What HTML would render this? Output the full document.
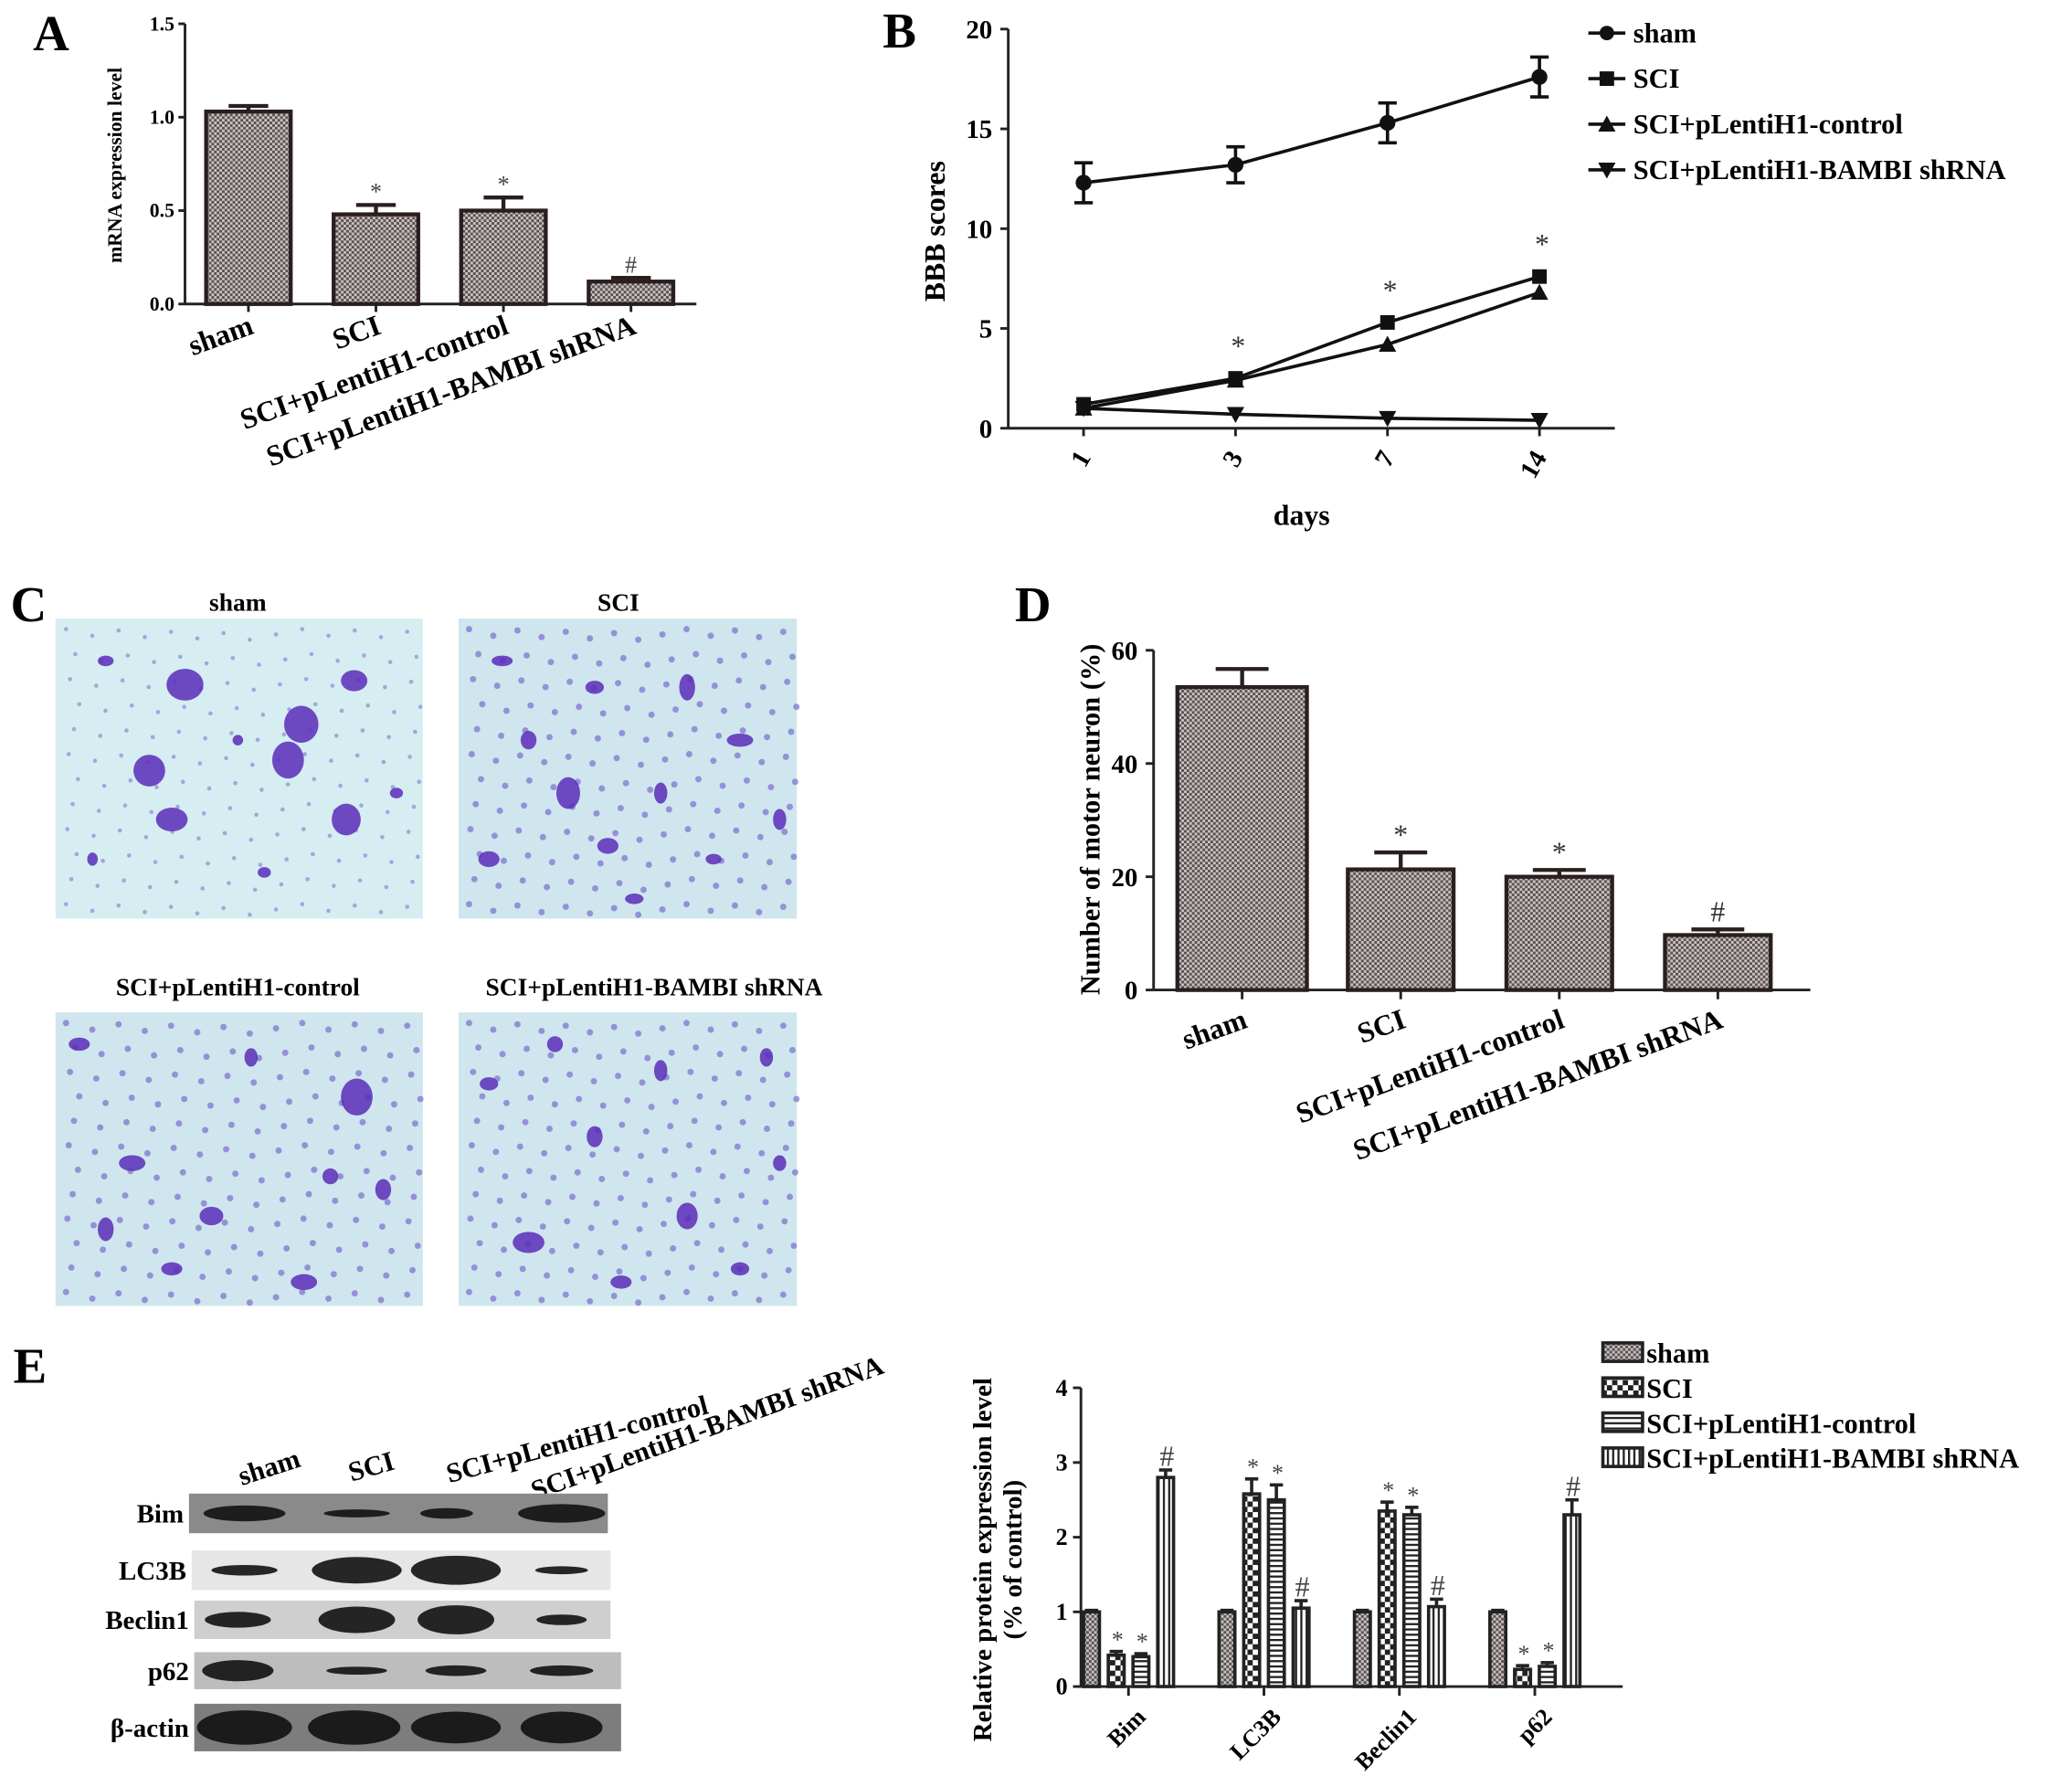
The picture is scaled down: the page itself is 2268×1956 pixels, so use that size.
<!DOCTYPE html>
<html><head><meta charset="utf-8">
<style>
html,body{margin:0;padding:0;background:#fff;}
svg{display:block;font-family:"Liberation Serif",serif;font-weight:bold;}
</style></head>
<body>
<svg id="fig" width="2268" height="1956" viewBox="0 0 1568 1352" preserveAspectRatio="none" xmlns="http://www.w3.org/2000/svg">
<defs>
<pattern id="pCross" width="4" height="4" patternUnits="userSpaceOnUse">
<rect width="4" height="4" fill="#c8c2c2"/><rect width="2" height="2" fill="#5a5050"/><rect x="2" y="2" width="2" height="2" fill="#5a5050"/>
</pattern>
<pattern id="pChecker" width="8" height="8" patternUnits="userSpaceOnUse">
<rect width="8" height="8" fill="#fff"/><rect width="4" height="4" fill="#222"/><rect x="4" y="4" width="4" height="4" fill="#222"/>
</pattern>
<pattern id="pHoriz" width="4" height="4" patternUnits="userSpaceOnUse">
<rect width="4" height="4" fill="#fff"/><rect width="4" height="1.6" fill="#222"/>
</pattern>
<pattern id="pVert" width="4" height="4" patternUnits="userSpaceOnUse">
<rect width="4" height="4" fill="#fff"/><rect width="1.6" height="4" fill="#222"/>
</pattern>
</defs>
<g id="panelA"></g>
<g id="panelB"></g>
<g id="panelC"></g>
<g id="panelD"></g>
<g id="panelE"></g>
</svg>
<script>
// ---- data ----
const groupsA = ["sham","SCI","SCI+pLentiH1-control","SCI+pLentiH1-BAMBI shRNA"];
const valuesA = [1.03,0.48,0.50,0.12];
const errA = [0.03,0.05,0.07,0.02];
const marksA = ["","*","*","#"];
const ticksA = [0,0.5,1.0,1.5];
const tickLabelsA = ["0.0","0.5","1.0","1.5"];

const daysB = ["1","3","7","14"];
const seriesNamesB = ["sham","SCI","SCI+pLentiH1-control","SCI+pLentiH1-BAMBI shRNA"];
const shamB = [12.3,13.2,15.3,17.6];
const shamErrB = [1.0,0.9,1.0,1.0];
const sciB = [1.2,2.5,5.3,7.6];
const ctrlB = [1.0,2.4,4.2,6.8];
const shB = [1.0,0.7,0.5,0.4];
const starsB = ["","*","*","*"];
const ticksB = [0,5,10,15,20];

const groupsD = ["sham","SCI","SCI+pLentiH1-control","SCI+pLentiH1-BAMBI shRNA"];
const valuesD = [53.5,21.3,20.0,9.7];
const errD = [3.2,3.0,1.2,1.0];
const marksD = ["","*","*","#"];
const ticksD = [0,20,40,60];

const proteinsE = ["Bim","LC3B","Beclin1","p62"];
const shamE = [1,1,1,1];
const sciE = [0.42,2.58,2.35,0.23];
const ctrlE = [0.40,2.50,2.30,0.27];
const shE = [2.80,1.05,1.07,2.30];
const errBimE = [0.02,0.05,0.04,0.1];
const errLc3bE = [0.02,0.2,0.2,0.1];
const errBeclinE = [0.02,0.12,0.1,0.1];
const errP62E = [0.02,0.05,0.05,0.2];
const marksE = ["","*","*","#"];
const ticksE = [0,1,2,3,4];

const NS="http://www.w3.org/2000/svg";
function mk(parent,tag,attrs,text){const e=document.createElementNS(NS,tag);for(const k in attrs)e.setAttribute(k,attrs[k]);if(text!==undefined)e.textContent=text;parent.appendChild(e);return e;}

// ---------- Panel A ----------
(function(){
const g=document.getElementById('panelA');
const x0=140,x1=527,y0=230,y1=18,ymax=1.5;
const ys=v=>y0-(v/ymax)*(y0-y1);
const bx=i=>188+i*96.5;
let t=mk(g,'text',{x:25,y:38,'font-size':38});t.textContent="A";

mk(g,'line',{x1:x0,y1:y1,x2:x0,y2:y0,stroke:'#222','stroke-width':2});
mk(g,'line',{x1:x0,y1:y0,x2:x1,y2:y0,stroke:'#222','stroke-width':2});
ticksA.forEach((v,i)=>{mk(g,'line',{x1:x0-5,y1:ys(v),x2:x0,y2:ys(v),stroke:'#222','stroke-width':2});
 const l=mk(g,'text',{x:x0-8,y:ys(v)+5,'text-anchor':'end','font-size':15},tickLabelsA[i]);
 });
const yt=mk(g,'text',{transform:'translate(92,125) rotate(-90)','text-anchor':'middle','font-size':15},"mRNA expression level");

valuesA.forEach((v,i)=>{const cx=bx(i),w=64;
 const r=mk(g,'rect',{x:cx-w/2,y:ys(v),width:w,height:y0-ys(v),fill:'url(#pCross)',stroke:'#2a1e1e','stroke-width':3});
 
 const ye=ys(v+errA[i]);
 mk(g,'line',{x1:cx,y1:ys(v),x2:cx,y2:ye,stroke:'#2a1e1e','stroke-width':3});
 mk(g,'line',{x1:cx-15,y1:ye,x2:cx+15,y2:ye,stroke:'#2a1e1e','stroke-width':3});
 mk(g,'line',{x1:cx,y1:y0,x2:cx,y2:y0+6,stroke:'#222','stroke-width':2});
 if(marksA[i]){const m=mk(g,'text',{x:cx,y:ye-4,'text-anchor':'middle','font-size':18,'font-weight':'normal',fill:'#444'},marksA[i]);}
 const l=mk(g,'text',{transform:`translate(${cx+5},${y0+22}) rotate(-20)`,'text-anchor':'end','font-size':22},groupsA[i]);
 
});
})();

// ---------- Panel B ----------
(function(){
const g=document.getElementById('panelB');
const x0=763,x1=1222,y0=324,y1=22,ymax=20;
const ys=v=>y0-(v/ymax)*(y0-y1);
const xs=i=>820+i*115;
let t=mk(g,'text',{x:668,y:36,'font-size':38},"B");
mk(g,'line',{x1:x0,y1:y1,x2:x0,y2:y0,stroke:'#222','stroke-width':2});
mk(g,'line',{x1:x0,y1:y0,x2:x1,y2:y0,stroke:'#222','stroke-width':2});
ticksB.forEach(v=>{mk(g,'line',{x1:x0-6,y1:ys(v),x2:x0,y2:ys(v),stroke:'#222','stroke-width':2});
 const l=mk(g,'text',{x:x0-12,y:ys(v)+7,'text-anchor':'end','font-size':20},String(v));});
const yt=mk(g,'text',{transform:'translate(715,175) rotate(-90)','text-anchor':'middle','font-size':22},"BBB scores");
const xt=mk(g,'text',{x:985,y:397,'text-anchor':'middle','font-size':22},"days");
daysB.forEach((d,i)=>{mk(g,'line',{x1:xs(i),y1:y0,x2:xs(i),y2:y0+6,stroke:'#222','stroke-width':2});
 const l=mk(g,'text',{transform:`translate(${xs(i)+6},${y0+22}) rotate(-60)`,'text-anchor':'end','font-size':20},d);});
const series=[shamB,sciB,ctrlB,shB];
function marker(p,type,x,y,s){
 if(type===0) return mk(p,'circle',{cx:x,cy:y,r:s,fill:'#111'});
 if(type===1) return mk(p,'rect',{x:x-s,y:y-s,width:2*s,height:2*s,fill:'#111'});
 if(type===2) return mk(p,'polygon',{points:`${x},${y-s*1.2} ${x-s*1.2},${y+s} ${x+s*1.2},${y+s}`,fill:'#111'});
 return mk(p,'polygon',{points:`${x},${y+s*1.2} ${x-s*1.2},${y-s} ${x+s*1.2},${y-s}`,fill:'#111'});
}
series.forEach((arr,si)=>{
 const sg=mk(g,'g',{});
 mk(sg,'polyline',{points:arr.map((v,i)=>xs(i)+','+ys(v)).join(' '),fill:'none',stroke:'#111','stroke-width':2.5});
 arr.forEach((v,i)=>{
  if(si===0){const e=shamErrB[i];mk(sg,'line',{x1:xs(i),y1:ys(v-e),x2:xs(i),y2:ys(v+e),stroke:'#111','stroke-width':2.5});
   mk(sg,'line',{x1:xs(i)-7,y1:ys(v-e),x2:xs(i)+7,y2:ys(v-e),stroke:'#111','stroke-width':2.5});
   mk(sg,'line',{x1:xs(i)-7,y1:ys(v+e),x2:xs(i)+7,y2:ys(v+e),stroke:'#111','stroke-width':2.5});}
  const m=marker(sg,si,xs(i),ys(v),si===0?6:5.5);
 });
 const ly=25+si*34.5;
 const le=mk(g,'g',{});
 mk(le,'line',{x1:1202,y1:ly,x2:1230,y2:ly,stroke:'#111','stroke-width':2.5});
 marker(le,si,1216,ly,5.5);
 mk(le,'text',{x:1236,y:ly+7,'font-size':21},seriesNamesB[si]);
});
starsB.forEach((s,i)=>{if(s){const m=mk(g,'text',{x:xs(i)+2,y:ys(sciB[i])-17,'text-anchor':'middle','font-size':22,'font-weight':'normal',fill:'#333'},s);}});
})();

// ---------- Panel C ----------
(function(){
const g=document.getElementById('panelC');
let t=mk(g,'text',{x:8,y:470,'font-size':38},"C");
const imgs=[["sham",42,468,278,227,180,462],["SCI",347,468,256,227,468,462],["SCI+pLentiH1-control",42,766,278,222,180,753],["SCI+pLentiH1-BAMBI shRNA",347,766,256,222,495,753]];
const blobSets=[
 [[140,518,14,12],[228,548,13,14],[218,575,12,14],[113,583,12,12],[262,620,11,12],[130,620,12,9],[268,515,10,8],[80,500,6,4],[180,560,4,4],[300,600,5,4],[70,650,4,5],[200,660,5,4]],
 [[380,500,8,4],[430,600,9,12],[460,640,8,6],[520,520,6,10],[560,560,10,5],[400,560,6,7],[480,680,7,4],[590,620,5,8],[370,650,8,6],[540,650,6,4],[450,520,7,5],[500,600,5,8]],
 [[270,830,12,14],[100,880,10,6],[160,920,9,7],[230,970,10,6],[60,790,8,5],[290,900,6,8],[190,800,5,7],[130,960,8,5],[250,890,6,6],[80,930,6,9]],
 [[400,940,12,8],[520,920,8,10],[450,860,6,8],[580,800,5,7],[370,820,7,5],[560,960,7,5],[420,790,6,6],[500,810,5,8],[470,970,8,5],[590,880,5,6]]];
imgs.forEach((im,k)=>{
 const ig=mk(g,'g',{});
 mk(ig,'rect',{x:im[1],y:im[2],width:im[3],height:im[4],fill:k===0?'#d6eef2':'#cfe6ee'});
 for(let a=0;a<14;a++)for(let b=0;b<12;b++){mk(ig,'circle',{cx:im[1]+8+a*im[3]/14+((b*7)%11),cy:im[2]+8+b*im[4]/12+((a*5)%9),r:k===0?1.6:2.4,fill:k===0?'#8a8ad0':'#7a6ccc',opacity:0.7});}
 blobSets[k].forEach(bb=>mk(ig,'ellipse',{cx:bb[0],cy:bb[1],rx:bb[2],ry:bb[3],fill:'#5b2bb8',opacity:0.85}));
 const l=mk(g,'text',{x:im[5],y:im[6],'text-anchor':'middle','font-size':19},im[0]);
});
})();

// ---------- Panel D ----------
(function(){
const g=document.getElementById('panelD');
const x0=873,x1=1370,y0=749,y1=492,ymax=60;
const ys=v=>y0-(v/ymax)*(y0-y1);
const bx=i=>940+i*120;
let t=mk(g,'text',{x:768,y:470,'font-size':38},"D");
mk(g,'line',{x1:x0,y1:y1,x2:x0,y2:y0,stroke:'#222','stroke-width':2});
mk(g,'line',{x1:x0,y1:y0,x2:x1,y2:y0,stroke:'#222','stroke-width':2});
ticksD.forEach(v=>{mk(g,'line',{x1:x0-6,y1:ys(v),x2:x0,y2:ys(v),stroke:'#222','stroke-width':2});
 const l=mk(g,'text',{x:x0-12,y:ys(v)+7,'text-anchor':'end','font-size':20},String(v));});
const yt=mk(g,'text',{transform:'translate(832,620) rotate(-90)','text-anchor':'middle','font-size':21},"Number of motor neuron (%)");
valuesD.forEach((v,i)=>{const cx=bx(i),w=i===0?98:80;
 const r=mk(g,'rect',{x:cx-w/2,y:ys(v),width:w,height:y0-ys(v),fill:'url(#pCross)',stroke:'#2a1e1e','stroke-width':3});
 
 const ye=ys(v+errD[i]);
 mk(g,'line',{x1:cx,y1:ys(v),x2:cx,y2:ye,stroke:'#2a1e1e','stroke-width':3});
 mk(g,'line',{x1:cx-20,y1:ye,x2:cx+20,y2:ye,stroke:'#2a1e1e','stroke-width':3});
 mk(g,'line',{x1:cx,y1:y0,x2:cx,y2:y0+7,stroke:'#222','stroke-width':2});
 if(marksD[i]){const m=mk(g,'text',{x:cx,y:ye-6,'text-anchor':'middle','font-size':22,'font-weight':'normal',fill:'#333'},marksD[i]);}
 const l=mk(g,'text',{transform:`translate(${cx+5},${y0+28}) rotate(-20)`,'text-anchor':'end','font-size':22},groupsD[i]);
 
});
})();

// ---------- Panel E ----------
(function(){
const g=document.getElementById('panelE');
let t=mk(g,'text',{x:10,y:1046,'font-size':38},"E");
const laneNames=["sham","SCI","SCI+pLentiH1-control","SCI+pLentiH1-BAMBI shRNA"];
const lanePos=[[183,1124,-18],[266,1121,-16],[340,1122,-15],[405,1135,-20]];
laneNames.forEach((n,i)=>{const p=lanePos[i];const l=mk(g,'text',{transform:`translate(${p[0]},${p[1]}) rotate(${p[2]})`,'font-size':21},n);});
const rows=[["Bim",143,1130,317,30,'#8a8a8a',[[185,52,6],[270,40,3],[338,30,4],[425,56,7]]],
 ["LC3B",145,1173,317,30,'#e6e6e6',[[185,40,4],[270,58,10],[345,58,11],[425,30,3]]],
 ["Beclin1",147,1211,315,29,'#cfcfcf',[[180,40,6],[270,48,10],[345,48,11],[425,28,4]]],
 ["p62",147,1250,323,28,'#bdbdbd',[[180,44,8],[270,36,3],[345,36,4],[425,38,4]]],
 ["β-actin",147,1289,323,36,'#7d7d7d',[[185,62,13],[268,60,13],[345,58,12],[425,52,12]]]];
rows.forEach(r=>{const bg=mk(g,'g',{});
 mk(bg,'rect',{x:r[1],y:r[2],width:r[3],height:r[4],fill:r[5]});
 r[6].forEach(b=>mk(bg,'ellipse',{cx:b[0],cy:r[2]+r[4]/2,rx:b[1]/2+5,ry:b[2],fill:'#111',opacity:0.9}));
 mk(bg,'text',{x:r[1]-4,y:r[2]+r[4]/2+7,'text-anchor':'end','font-size':20},r[0]);
});
const x0=818,x1=1228,y0=1276,y1=1050,ymax=4;
const ys=v=>y0-(v/ymax)*(y0-y1);
const gx=i=>854+i*102.5;
const fills=['url(#pCross)','url(#pChecker)','url(#pHoriz)','url(#pVert)'];
const series=[shamE,sciE,ctrlE,shE];
const errs=[errBimE,errLc3bE,errBeclinE,errP62E];
const names=["sham","SCI","SCI+pLentiH1-control","SCI+pLentiH1-BAMBI shRNA"];
mk(g,'line',{x1:x0,y1:y1,x2:x0,y2:y0,stroke:'#222','stroke-width':2});
mk(g,'line',{x1:x0,y1:y0,x2:x1,y2:y0,stroke:'#222','stroke-width':2});
ticksE.forEach(v=>{mk(g,'line',{x1:x0-6,y1:ys(v),x2:x0,y2:ys(v),stroke:'#222','stroke-width':2});
 const l=mk(g,'text',{x:x0-10,y:ys(v)+6,'text-anchor':'end','font-size':18},String(v));});
const yt1=mk(g,'text',{transform:'translate(750,1180) rotate(-90)','text-anchor':'middle','font-size':20},"Relative protein expression level");
const yt2=mk(g,'text',{transform:'translate(773,1180) rotate(-90)','text-anchor':'middle','font-size':20},"(% of control)");
proteinsE.forEach((p,i)=>{
 mk(g,'line',{x1:gx(i),y1:y0,x2:gx(i),y2:y0+7,stroke:'#222','stroke-width':2});
 const l=mk(g,'text',{transform:`translate(${gx(i)+14},${y0+24}) rotate(-45)`,'text-anchor':'end','font-size':18},p);
 series.forEach((arr,s)=>{const v=arr[i],cx=gx(i)-28+s*18.7,w=12;
  const r=mk(g,'rect',{x:cx-w/2,y:ys(v),width:w,height:y0-ys(v),fill:fills[s],stroke:'#222','stroke-width':2.5});
  
  const ye=ys(v+errs[i][s]);
  mk(g,'line',{x1:cx,y1:ys(v),x2:cx,y2:ye,stroke:'#222','stroke-width':2.5});
  mk(g,'line',{x1:cx-5,y1:ye,x2:cx+5,y2:ye,stroke:'#222','stroke-width':2.5});
  if(marksE[s]){const m=mk(g,'text',{x:cx+1,y:ye-3,'text-anchor':'middle','font-size':marksE[s]==='#'?22:18,'font-weight':'normal',fill:'#444'},marksE[s]);}
 });
});
names.forEach((n,s)=>{const ly=1024+s*26.5;
 const le=mk(g,'g',{});
 mk(le,'rect',{x:1213,y:ly-8,width:30,height:14,fill:fills[s],stroke:'#222','stroke-width':2.5});
 mk(le,'text',{x:1246,y:ly+7,'font-size':21},n);
});
})();
</script>
</body></html>
